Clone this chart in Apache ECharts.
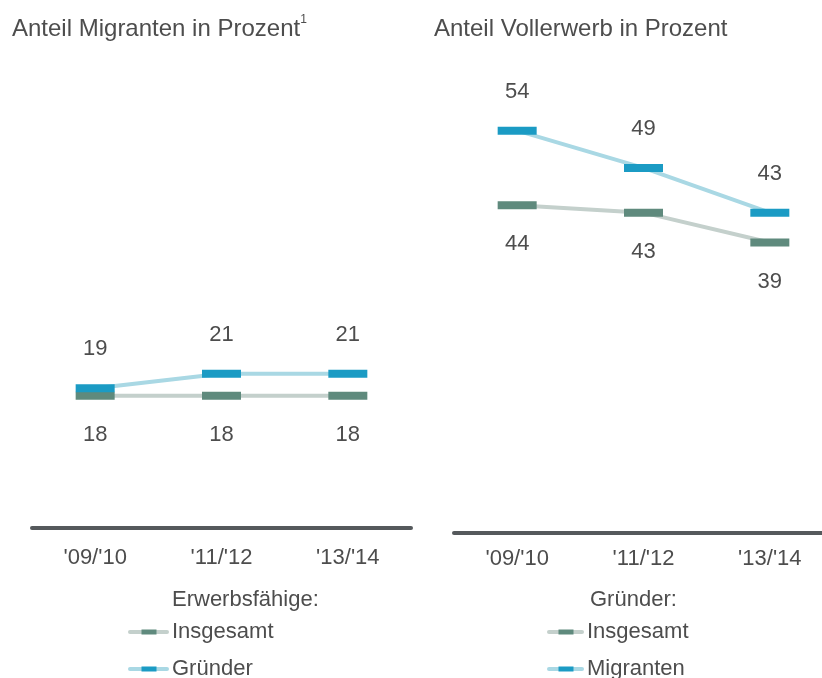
<!DOCTYPE html>
<html>
<head>
<meta charset="utf-8">
<script src="https://cdn.jsdelivr.net/npm/echarts@6/dist/echarts.min.js"></script>
<style>
  html, body { margin: 0; padding: 0; background: #fff; }
  #chart { width: 822px; height: 678px; }
</style>
</head>
<body>
<div id="chart"></div>
<script>
// Daten
const years = ["'09/'10", "'11/'12", "'13/'14"];
const migrantenInsgesamt = [18, 18, 18];
const migrantenGruender = [19, 21, 21];
const vollerwerbInsgesamt = [44, 43, 39];
const vollerwerbMigranten = [54, 49, 43];

const font = '"Liberation Sans", Arial, sans-serif';
const textColor = '#4d4d4d';
const greenMark = '#5f8a7d', greenLine = '#c4d0cc';
const blueMark = '#1b9bc4', blueLine = '#a9d8e4';

function lineSeries(name, data, idx, mark, line, above) {
    return {
        name: name,
        type: 'line',
        xAxisIndex: idx,
        yAxisIndex: idx,
        data: data,
        symbol: 'rect',
        symbolSize: [39, 8],
        lineStyle: { color: line, width: 4 },
        itemStyle: { color: mark },
        label: {
            show: true,
            position: above ? 'top' : 'bottom',
            distance: 24,
            color: textColor,
            fontSize: 22,
            fontFamily: font
        },
        emphasis: { disabled: true },
        z: above ? 3 : 2
    };
}

function legendItem(x, y, w, mark, line, label) {
    return {
        type: 'group',
        x: x,
        y: y,
        children: [
            { type: 'rect', shape: { x: 0, y: -2, width: w, height: 4, r: 2 }, style: { fill: line } },
            { type: 'rect', shape: { x: w / 2 - 7, y: -2.5, width: 15, height: 5 }, style: { fill: mark } },
            { type: 'text', x: w + 3, y: 0, style: { text: label, fontSize: 22, fontFamily: font, fill: textColor, verticalAlign: 'middle' } }
        ]
    };
}

const chart = echarts.init(document.getElementById('chart'));

const xAxisBase = {
    type: 'category',
    data: years,
    axisTick: { show: false },
    axisLine: { lineStyle: { color: '#55595c', width: 4 } },
    axisLabel: { color: textColor, fontSize: 22, fontFamily: font }
};
const yAxisBase = { type: 'value', min: 0, max: 60, show: false, splitLine: { show: false } };

chart.setOption({
    animation: false,
    title: [
        {
            text: '{a|Anteil Migranten in Prozent}{s|1}',
            left: 7, top: 9,
            textStyle: {
                rich: {
                    a: { fontSize: 24, lineHeight: 30, fontFamily: font, color: textColor, fontWeight: 'normal' },
                    s: { fontSize: 12, lineHeight: 12, fontFamily: font, color: textColor, fontWeight: 'normal', verticalAlign: 'top' }
                }
            }
        },
        {
            text: 'Anteil Vollerwerb in Prozent',
            left: 429, top: 12,
            textStyle: { fontSize: 24, fontFamily: font, color: textColor, fontWeight: 'normal' }
        }
    ],
    grid: [
        { left: 32, width: 379, top: 87, bottom: 150, outerBoundsMode: 'none' },
        { left: 454, width: 379, top: 86, bottom: 145, outerBoundsMode: 'none' }
    ],
    xAxis: [
        Object.assign({}, xAxisBase, { gridIndex: 0, axisLabel: Object.assign({}, xAxisBase.axisLabel, { margin: 19 }) }),
        Object.assign({}, xAxisBase, { gridIndex: 1, axisLabel: Object.assign({}, xAxisBase.axisLabel, { margin: 15 }) })
    ],
    yAxis: [
        Object.assign({ gridIndex: 0 }, yAxisBase),
        Object.assign({ gridIndex: 1 }, yAxisBase)
    ],
    series: [
        lineSeries('Insgesamt', migrantenInsgesamt, 0, greenMark, greenLine, false),
        lineSeries('Gründer', migrantenGruender, 0, blueMark, blueLine, true),
        lineSeries('Insgesamt', vollerwerbInsgesamt, 1, greenMark, greenLine, false),
        lineSeries('Migranten', vollerwerbMigranten, 1, blueMark, blueLine, true)
    ],
    graphic: [
        { type: 'text', x: 172, y: 600, style: { text: 'Erwerbsfähige:', fontSize: 22, fontFamily: font, fill: textColor, verticalAlign: 'middle' } },
        legendItem(128, 632, 41, greenMark, greenLine, 'Insgesamt'),
        legendItem(128, 669, 41, blueMark, blueLine, 'Gründer'),
        { type: 'text', x: 590, y: 600, style: { text: 'Gründer:', fontSize: 22, fontFamily: font, fill: textColor, verticalAlign: 'middle' } },
        legendItem(547, 632, 37, greenMark, greenLine, 'Insgesamt'),
        legendItem(547, 669, 37, blueMark, blueLine, 'Migranten')
    ]
});
</script>
</body>
</html>
